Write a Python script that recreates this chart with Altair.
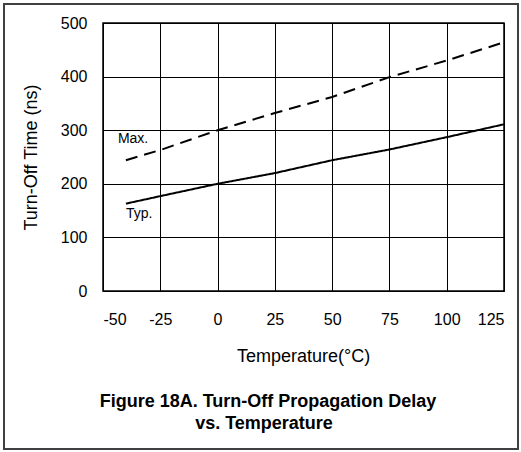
import altair as alt
import pandas as pd

temps = [-40, -25, 0, 25, 50, 75, 100, 125]
typ_vals = [163, 177, 200, 220, 244, 264, 287, 311]
max_vals = [244, 263, 300, 332, 362, 399, 430, 464]
x_ticks = [-50, -25, 0, 25, 50, 75, 100, 125]
y_ticks = [0, 100, 200, 300, 400, 500]

label_names = ["Max.", "Typ."]
label_x = [-43.5, -40]
label_y = [277, 136]

title_lines = ["Figure 18A. Turn-Off Propagation Delay", "vs. Temperature"]

FONT = "Liberation Sans"

df = pd.DataFrame(
    {"temp": temps * 2,
     "value": max_vals + typ_vals,
     "series": ["Max."] * len(temps) + ["Typ."] * len(temps)}
)
lab = pd.DataFrame({"name": label_names, "x": label_x, "y": label_y})

xscale = alt.Scale(domain=[-50, 125], nice=False, zero=False)
yscale = alt.Scale(domain=[0, 500], nice=False)

xaxis = alt.Axis(values=x_ticks, title="Temperature(°C)", grid=True, ticks=False,
                 domain=False, labelPadding=20, labelFontSize=16, labelFont=FONT,
                 labelExpr="'' + datum.value",
                 labelColor="black", titleFont=FONT, titleFontSize=18,
                 titleFontWeight="normal", titleColor="black", titleX=200,
                 titleY=70, titleBaseline="alphabetic", titleAnchor="middle")
yaxis = alt.Axis(values=y_ticks, title="Turn-Off Time (ns)", grid=True, ticks=False,
                 domain=False, labelPadding=16, labelFontSize=16, labelFont=FONT,
                 labelColor="black", titleFont=FONT, titleFontSize=18,
                 titleFontWeight="normal", titleColor="black", titleX=-72,
                 titleY=134, titleAngle=270, titleAlign="center",
                 titleBaseline="middle")

lines = alt.Chart(df).mark_line(color="black", strokeWidth=2).encode(
    x=alt.X("temp:Q", scale=xscale, axis=xaxis),
    y=alt.Y("value:Q", scale=yscale, axis=yaxis),
    strokeDash=alt.StrokeDash(
        "series:N",
        scale=alt.Scale(domain=["Max.", "Typ."], range=[[12, 7], [1, 0]]),
        legend=None),
    detail="series:N",
)

labels = alt.Chart(lab).mark_text(
    align="left", baseline="alphabetic", fontSize=14, font=FONT, color="black"
).encode(x=alt.X("x:Q", scale=xscale), y=alt.Y("y:Q", scale=yscale), text="name:N")

one = pd.DataFrame({"a": [0]})

frame = alt.Chart(one).mark_rect(
    filled=False, stroke="#404040", strokeWidth=2, fill=None
).encode(x=alt.value(-99), x2=alt.value(415), y=alt.value(-19), y2=alt.value(426))

title1 = alt.Chart(one).mark_text(
    text=title_lines[0], align="center", baseline="alphabetic", fontSize=18,
    font=FONT, fontWeight="bold", color="black"
).encode(x=alt.value(165), y=alt.value(384))
title2 = alt.Chart(one).mark_text(
    text=title_lines[1], align="center", baseline="alphabetic", fontSize=18,
    font=FONT, fontWeight="bold", color="black"
).encode(x=alt.value(161), y=alt.value(406))

chart = alt.layer(lines, labels, frame, title1, title2).properties(
    width=401, height=268,
    autosize=alt.AutoSizeParams(type="none"),
    padding={"left": 103, "top": 23, "right": 17, "bottom": 161},
).configure_view(stroke="black", strokeWidth=1.5).configure_axis(
    gridColor="black", gridOpacity=1, gridWidth=1
)

chart.save("out.html", embed_options={"renderer": "svg", "actions": False})
